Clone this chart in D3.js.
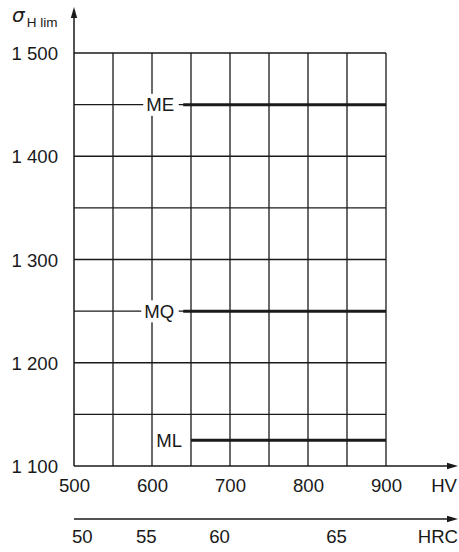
<!DOCTYPE html>
<html>
<head>
<meta charset="utf-8">
<script src="https://cdn.jsdelivr.net/npm/d3@7"></script>
<style>
  html, body { margin: 0; padding: 0; background: #fff; }
  svg { display: block; }
  text { font-family: Arial, "Liberation Sans", sans-serif; fill: #1a1a1a; }
</style>
</head>
<body>
<svg id="chart" width="459" height="552"></svg>
<script>
// Vickers hardness (HV) scale and its gridlines
const hvTicks = [500, 600, 700, 800, 900];
const hvGrid = [500, 550, 600, 650, 700, 750, 800, 850, 900];

// Allowable contact stress axis
const stressTicks = [1100, 1200, 1300, 1400, 1500];
const stressTickLabels = ["1 100", "1 200", "1 300", "1 400", "1 500"];
const stressGrid = [1100, 1150, 1200, 1250, 1300, 1350, 1400, 1450, 1500];

// Rockwell C ticks and their HV equivalents on the same horizontal scale
const hrcTicks = [50, 55, 60, 65];
const hrcAsHV = [510, 592, 686, 836];

// Material quality grades: level, HV where the grade starts, HV where it ends
const gradeNames = ["ME", "MQ", "ML"];
const gradeLevels = [1450, 1250, 1125];
const gradeFrom = [640, 640, 650];
const gradeTo = [900, 900, 900];

const svg = d3.select("#chart");
const ink = "#1a1a1a";
const fs = 18.6;

const x = d3.scaleLinear().domain([500, 900]).range([74, 386]);
const y = d3.scaleLinear().domain([1100, 1500]).range([466, 53]);
const xHRC = d3.scaleLinear()
  .domain(hrcTicks)
  .range(hrcAsHV.map(v => x(v)));

const arrowHead = (tipX, tipY, dir) => {
  const L = 11, W = 3.2;
  const pts = dir === "right"
    ? [[tipX, tipY], [tipX - L, tipY - W], [tipX - L, tipY + W]]
    : [[tipX, tipY], [tipX - W, tipY + L], [tipX + W, tipY + L]];
  svg.append("path")
    .attr("d", d3.line()(pts) + "Z")
    .attr("fill", ink);
};

// Grid
const grid = svg.append("g").attr("stroke", ink).attr("stroke-width", 1.3);
grid.selectAll("line.v")
  .data(hvGrid.slice(1))
  .join("line")
  .attr("class", "v")
  .attr("x1", d => x(d)).attr("x2", d => x(d))
  .attr("y1", y(1100)).attr("y2", y(1500));
grid.selectAll("line.h")
  .data(stressGrid.slice(1))
  .join("line")
  .attr("class", "h")
  .attr("x1", x(500)).attr("x2", x(900))
  .attr("y1", d => y(d)).attr("y2", d => y(d));

// Axes with arrows
svg.append("line")
  .attr("x1", x(500)).attr("x2", 455)
  .attr("y1", y(1100)).attr("y2", y(1100))
  .attr("stroke", ink).attr("stroke-width", 1.5);
arrowHead(458, y(1100), "right");

svg.append("line")
  .attr("x1", x(500)).attr("x2", x(500))
  .attr("y1", y(1100)).attr("y2", 12)
  .attr("stroke", ink).attr("stroke-width", 1.5);
arrowHead(x(500), 7, "up");

svg.append("line")
  .attr("x1", x(500)).attr("x2", 455)
  .attr("y1", 519).attr("y2", 519)
  .attr("stroke", ink).attr("stroke-width", 1.5);
arrowHead(458, 519, "right");

// HV tick labels
const hvAxis = svg.append("g")
  .attr("transform", `translate(0,${y(1100)})`)
  .call(d3.axisBottom(x).tickValues(hvTicks).tickSize(0).tickFormat(d3.format("d")));
hvAxis.select(".domain").remove();
hvAxis.selectAll("text")
  .attr("y", 26).attr("dy", 0)
  .attr("font-size", fs)
  .style("font-family", "Arial, 'Liberation Sans', sans-serif")
  .attr("fill", ink);

svg.append("text")
  .attr("x", 457).attr("y", 492)
  .attr("text-anchor", "end")
  .attr("font-size", fs)
  .text("HV");

// HRC tick labels
const hrcAxis = svg.append("g")
  .attr("transform", "translate(0,519)")
  .call(d3.axisBottom(xHRC).tickValues(hrcTicks).tickSize(0).tickFormat(d3.format("d")));
hrcAxis.select(".domain").remove();
hrcAxis.selectAll("text")
  .attr("y", 24).attr("dy", 0)
  .attr("font-size", fs)
  .style("font-family", "Arial, 'Liberation Sans', sans-serif")
  .attr("fill", ink);

svg.append("text")
  .attr("x", 458).attr("y", 543)
  .attr("text-anchor", "end")
  .attr("font-size", fs)
  .text("HRC");

// Stress tick labels
const yAxis = svg.append("g")
  .attr("transform", `translate(${x(500)},0)`)
  .call(d3.axisLeft(y).tickValues(stressTicks).tickSize(0)
    .tickFormat((d, i) => stressTickLabels[i]));
yAxis.select(".domain").remove();
yAxis.selectAll("text")
  .attr("x", -16).attr("dy", "0.36em")
  .attr("font-size", fs)
  .style("font-family", "Arial, 'Liberation Sans', sans-serif")
  .attr("fill", ink);

// Axis title: sigma H lim
const title = svg.append("text").attr("x", 12).attr("y", 22);
title.append("tspan")
  .attr("font-size", 20)
  .attr("font-style", "italic")
  .style("font-family", "'DejaVu Sans', 'Liberation Sans', sans-serif")
  .text("σ");
title.append("tspan")
  .attr("font-size", 13.5)
  .attr("dx", 2).attr("dy", 5)
  .text("H lim");

// Grade lines and labels
const grades = gradeNames.map((name, i) => ({
  name, level: gradeLevels[i], from: gradeFrom[i], to: gradeTo[i]
}));

svg.selectAll("line.grade")
  .data(grades)
  .join("line")
  .attr("class", "grade")
  .attr("x1", d => x(d.from)).attr("x2", d => x(d.to))
  .attr("y1", d => y(d.level)).attr("y2", d => y(d.level))
  .attr("stroke", ink).attr("stroke-width", 3);

const lab = svg.selectAll("g.glabel")
  .data(grades)
  .join("g")
  .attr("class", "glabel");
lab.append("text")
  .attr("x", d => x(d.from) - 9)
  .attr("y", d => y(d.level))
  .attr("dy", "0.36em")
  .attr("text-anchor", "end")
  .attr("font-size", fs)
  .text(d => d.name);
lab.each(function () {
  const g = d3.select(this);
  const b = g.select("text").node().getBBox();
  g.insert("rect", "text")
    .attr("x", b.x - 3)
    .attr("y", b.y + b.height / 2 - 11)
    .attr("width", b.width + 7.5)
    .attr("height", 22)
    .attr("fill", "#fff");
});
</script>
</body>
</html>
